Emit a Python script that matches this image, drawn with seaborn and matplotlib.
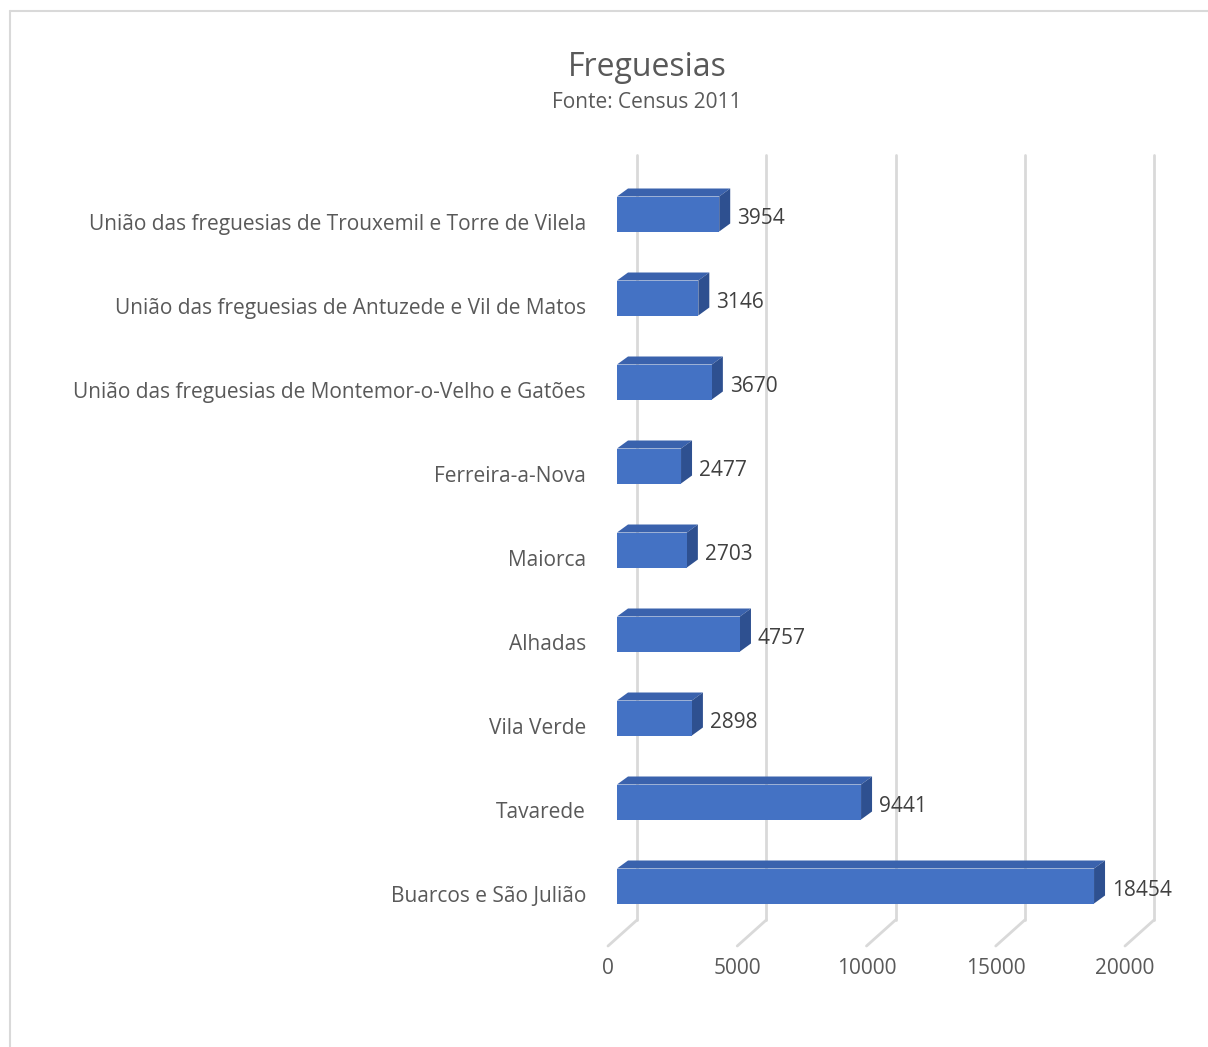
import matplotlib
matplotlib.use("Agg")
import matplotlib.pyplot as plt
import seaborn as sns
import pandas as pd
from matplotlib.patches import Polygon
from matplotlib.lines import Line2D

categories = [
    "União das freguesias de Trouxemil e Torre de Vilela",
    "União das freguesias de Antuzede e Vil de Matos",
    "União das freguesias de Montemor-o-Velho e Gatões",
    "Ferreira-a-Nova",
    "Maiorca",
    "Alhadas",
    "Vila Verde",
    "Tavarede",
    "Buarcos e São Julião",
]
values = [3954, 3146, 3670, 2477, 2703, 4757, 2898, 9441, 18454]
xticks = [0, 5000, 10000, 15000, 20000]
title = "Freguesias"
subtitle = "Fonte: Census 2011"

sns.set_theme(style="white")
plt.rcParams['font.family'] = ['Open Sans', 'DejaVu Sans']

W, H = 1208, 1047
fig = plt.figure(figsize=(W / 100, H / 100), dpi=100)

# pixel geometry
x0_px = 617.0          # front-plane zero
px_per_unit = 0.02585
cat0_py = 214.0
cat_step = 84.0
ax_l, ax_r, ax_t, ax_b = 560, 1180, 140, 1000
ax = fig.add_axes([ax_l / W, 1 - ax_b / H, (ax_r - ax_l) / W, (ax_b - ax_t) / H])

def dx(px):
    return px / px_per_unit

def dy(py):
    return py / cat_step

grid_c = "#D9D9D9"
text_c = "#595959"

df = pd.DataFrame({"cat": categories, "val": values})
bar_h = 35 / cat_step
sns.barplot(data=df, x="val", y="cat", orient="h", color="#4472C4", saturation=1,
            width=bar_h, ax=ax, zorder=3, edgecolor="none")

ax.set_xlim((ax_l - x0_px) / px_per_unit, (ax_r - x0_px) / px_per_unit)
ax.set_ylim((ax_b - cat0_py) / cat_step, (ax_t - cat0_py) / cat_step)

# back-wall gridlines + floor diagonals
top_y = dy(155 - cat0_py)
wall_y = dy(920 - cat0_py)
floor_y = dy(946 - cat0_py)
for v in xticks:
    xb = v + dx(20)
    ax.add_line(Line2D([xb, xb], [top_y, wall_y], color=grid_c, lw=2, zorder=0, clip_on=False))
    ax.add_line(Line2D([xb, v + dx(-9)], [wall_y, floor_y], color=grid_c, lw=2, zorder=0, clip_on=False))
    ax.text(v + dx(-9), dy(968 - cat0_py), f"{v}", ha="center", va="center",
            fontsize=15, color=text_c, clip_on=False)

ddx, ddy = dx(11), dy(-8)
for i, v in enumerate(values):
    yt = i - bar_h / 2
    yb = i + bar_h / 2
    top = Polygon([[0, yt], [v, yt], [v + ddx, yt + ddy], [ddx, yt + ddy]],
                  closed=True, facecolor="#3A62AD", edgecolor="none", zorder=2)
    side = Polygon([[v, yt], [v + ddx, yt + ddy], [v + ddx, yb + ddy], [v, yb]],
                   closed=True, facecolor="#2E5090", edgecolor="none", zorder=2)
    ax.add_patch(top)
    ax.add_patch(side)
    ax.text(v + ddx + dx(7), i + dy(4), f"{v}", ha="left", va="center",
            fontsize=15, color="#404040")
    ax.text(dx(586 - x0_px), i + dy(10), categories[i], ha="right", va="center",
            fontsize=15, color=text_c, clip_on=False)

ax.set_xticks([])
ax.set_yticks([])
ax.set_xlabel("")
ax.set_ylabel("")
for s in ax.spines.values():
    s.set_visible(False)
ax.patch.set_alpha(0)

fig.text(647 / W, 1 - 67 / H, title, ha="center", va="center", fontsize=23, color=text_c)
fig.text(647 / W, 1 - 102 / H, subtitle, ha="center", va="center", fontsize=15, color=text_c)

# outer chart frame
fig.add_artist(Line2D([10 / W, 1], [1 - 11 / H, 1 - 11 / H], color="#D9D9D9", lw=1.5,
                      transform=fig.transFigure))
fig.add_artist(Line2D([10 / W, 10 / W], [0, 1 - 11 / H], color="#D9D9D9", lw=1.5,
                      transform=fig.transFigure))

fig.savefig("out.png", dpi=100, facecolor="white")
